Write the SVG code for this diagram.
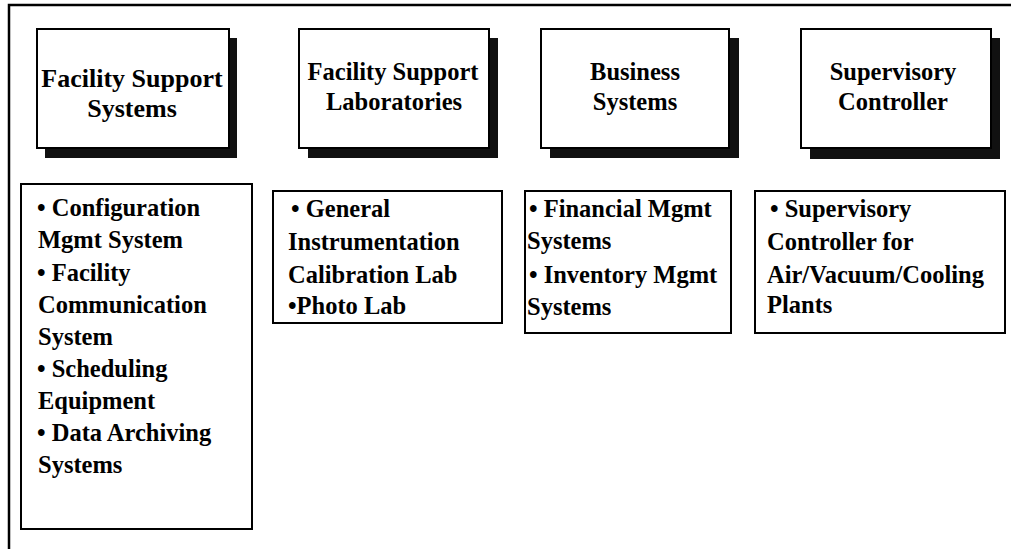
<svg xmlns="http://www.w3.org/2000/svg" width="1011" height="549" viewBox="0 0 1011 549">
<style>
.frame{fill:none;stroke:#000;stroke-width:2.5}
.box{fill:#fff;stroke:#000;stroke-width:2}
.shadow{fill:#111;stroke:none}
.title{font-family:"Liberation Serif","Times New Roman",serif;font-weight:bold;font-size:24.5px;fill:#000;text-anchor:middle}
.body{font-family:"Liberation Serif","Times New Roman",serif;font-weight:bold;font-size:24.5px;fill:#000}
</style>
<rect width="1011" height="549" fill="#fff"/>
<g id="frame">
<path class="frame" d="M9,549 V5 H1011"/>
</g>
<g id="connectors"></g>
<g id="node-fss">
<rect class="shadow" x="45" y="38" width="192" height="120"/>
<rect class="box" x="37" y="29" width="192" height="119"/>
<text class="title" x="132" y="87" style="font-size:26px">Facility Support</text>
<text class="title" x="132" y="117" style="font-size:26px">Systems</text>
</g>
<g id="node-fsl">
<rect class="shadow" x="308" y="38" width="190" height="120"/>
<rect class="box" x="299" y="29" width="190" height="119"/>
<text class="title" x="393" y="80">Facility Support</text>
<text class="title" x="394" y="110">Laboratories</text>
</g>
<g id="node-bs">
<rect class="shadow" x="550" y="38" width="189" height="120"/>
<rect class="box" x="541" y="29" width="188" height="119"/>
<text class="title" x="635" y="80">Business</text>
<text class="title" x="635" y="110">Systems</text>
</g>
<g id="node-sc">
<rect class="shadow" x="810" y="38" width="190" height="121"/>
<rect class="box" x="801" y="29" width="190" height="119"/>
<text class="title" x="893" y="80">Supervisory</text>
<text class="title" x="893" y="110">Controller</text>
</g>
<g id="node-fss-list">
<rect class="box" x="21" y="184" width="231" height="345"/>
<text class="body" x="37" y="216">• Configuration</text>
<text class="body" x="38" y="248">Mgmt System</text>
<text class="body" x="37" y="281">• Facility</text>
<text class="body" x="38" y="313">Communication</text>
<text class="body" x="38" y="345">System</text>
<text class="body" x="37" y="377">• Scheduling</text>
<text class="body" x="38" y="409">Equipment</text>
<text class="body" x="37" y="441">• Data Archiving</text>
<text class="body" x="38" y="473">Systems</text>
</g>
<g id="node-fsl-list">
<rect class="box" x="273" y="191" width="229" height="132"/>
<text class="body" x="291" y="217">• General</text>
<text class="body" x="288" y="250">Instrumentation</text>
<text class="body" x="288" y="283">Calibration Lab</text>
<text class="body" x="288" y="314">•Photo Lab</text>
</g>
<g id="node-bs-list">
<rect class="box" x="525" y="191" width="206" height="142"/>
<text class="body" x="529" y="217">• Financial Mgmt</text>
<text class="body" x="527" y="249">Systems</text>
<text class="body" x="529" y="283">• Inventory Mgmt</text>
<text class="body" x="527" y="315">Systems</text>
</g>
<g id="node-sc-list">
<rect class="box" x="755" y="191" width="250" height="142"/>
<text class="body" x="770" y="217">• Supervisory</text>
<text class="body" x="767" y="250">Controller for</text>
<text class="body" x="767" y="283">Air/Vacuum/Cooling</text>
<text class="body" x="767" y="313">Plants</text>
</g>
</svg>
